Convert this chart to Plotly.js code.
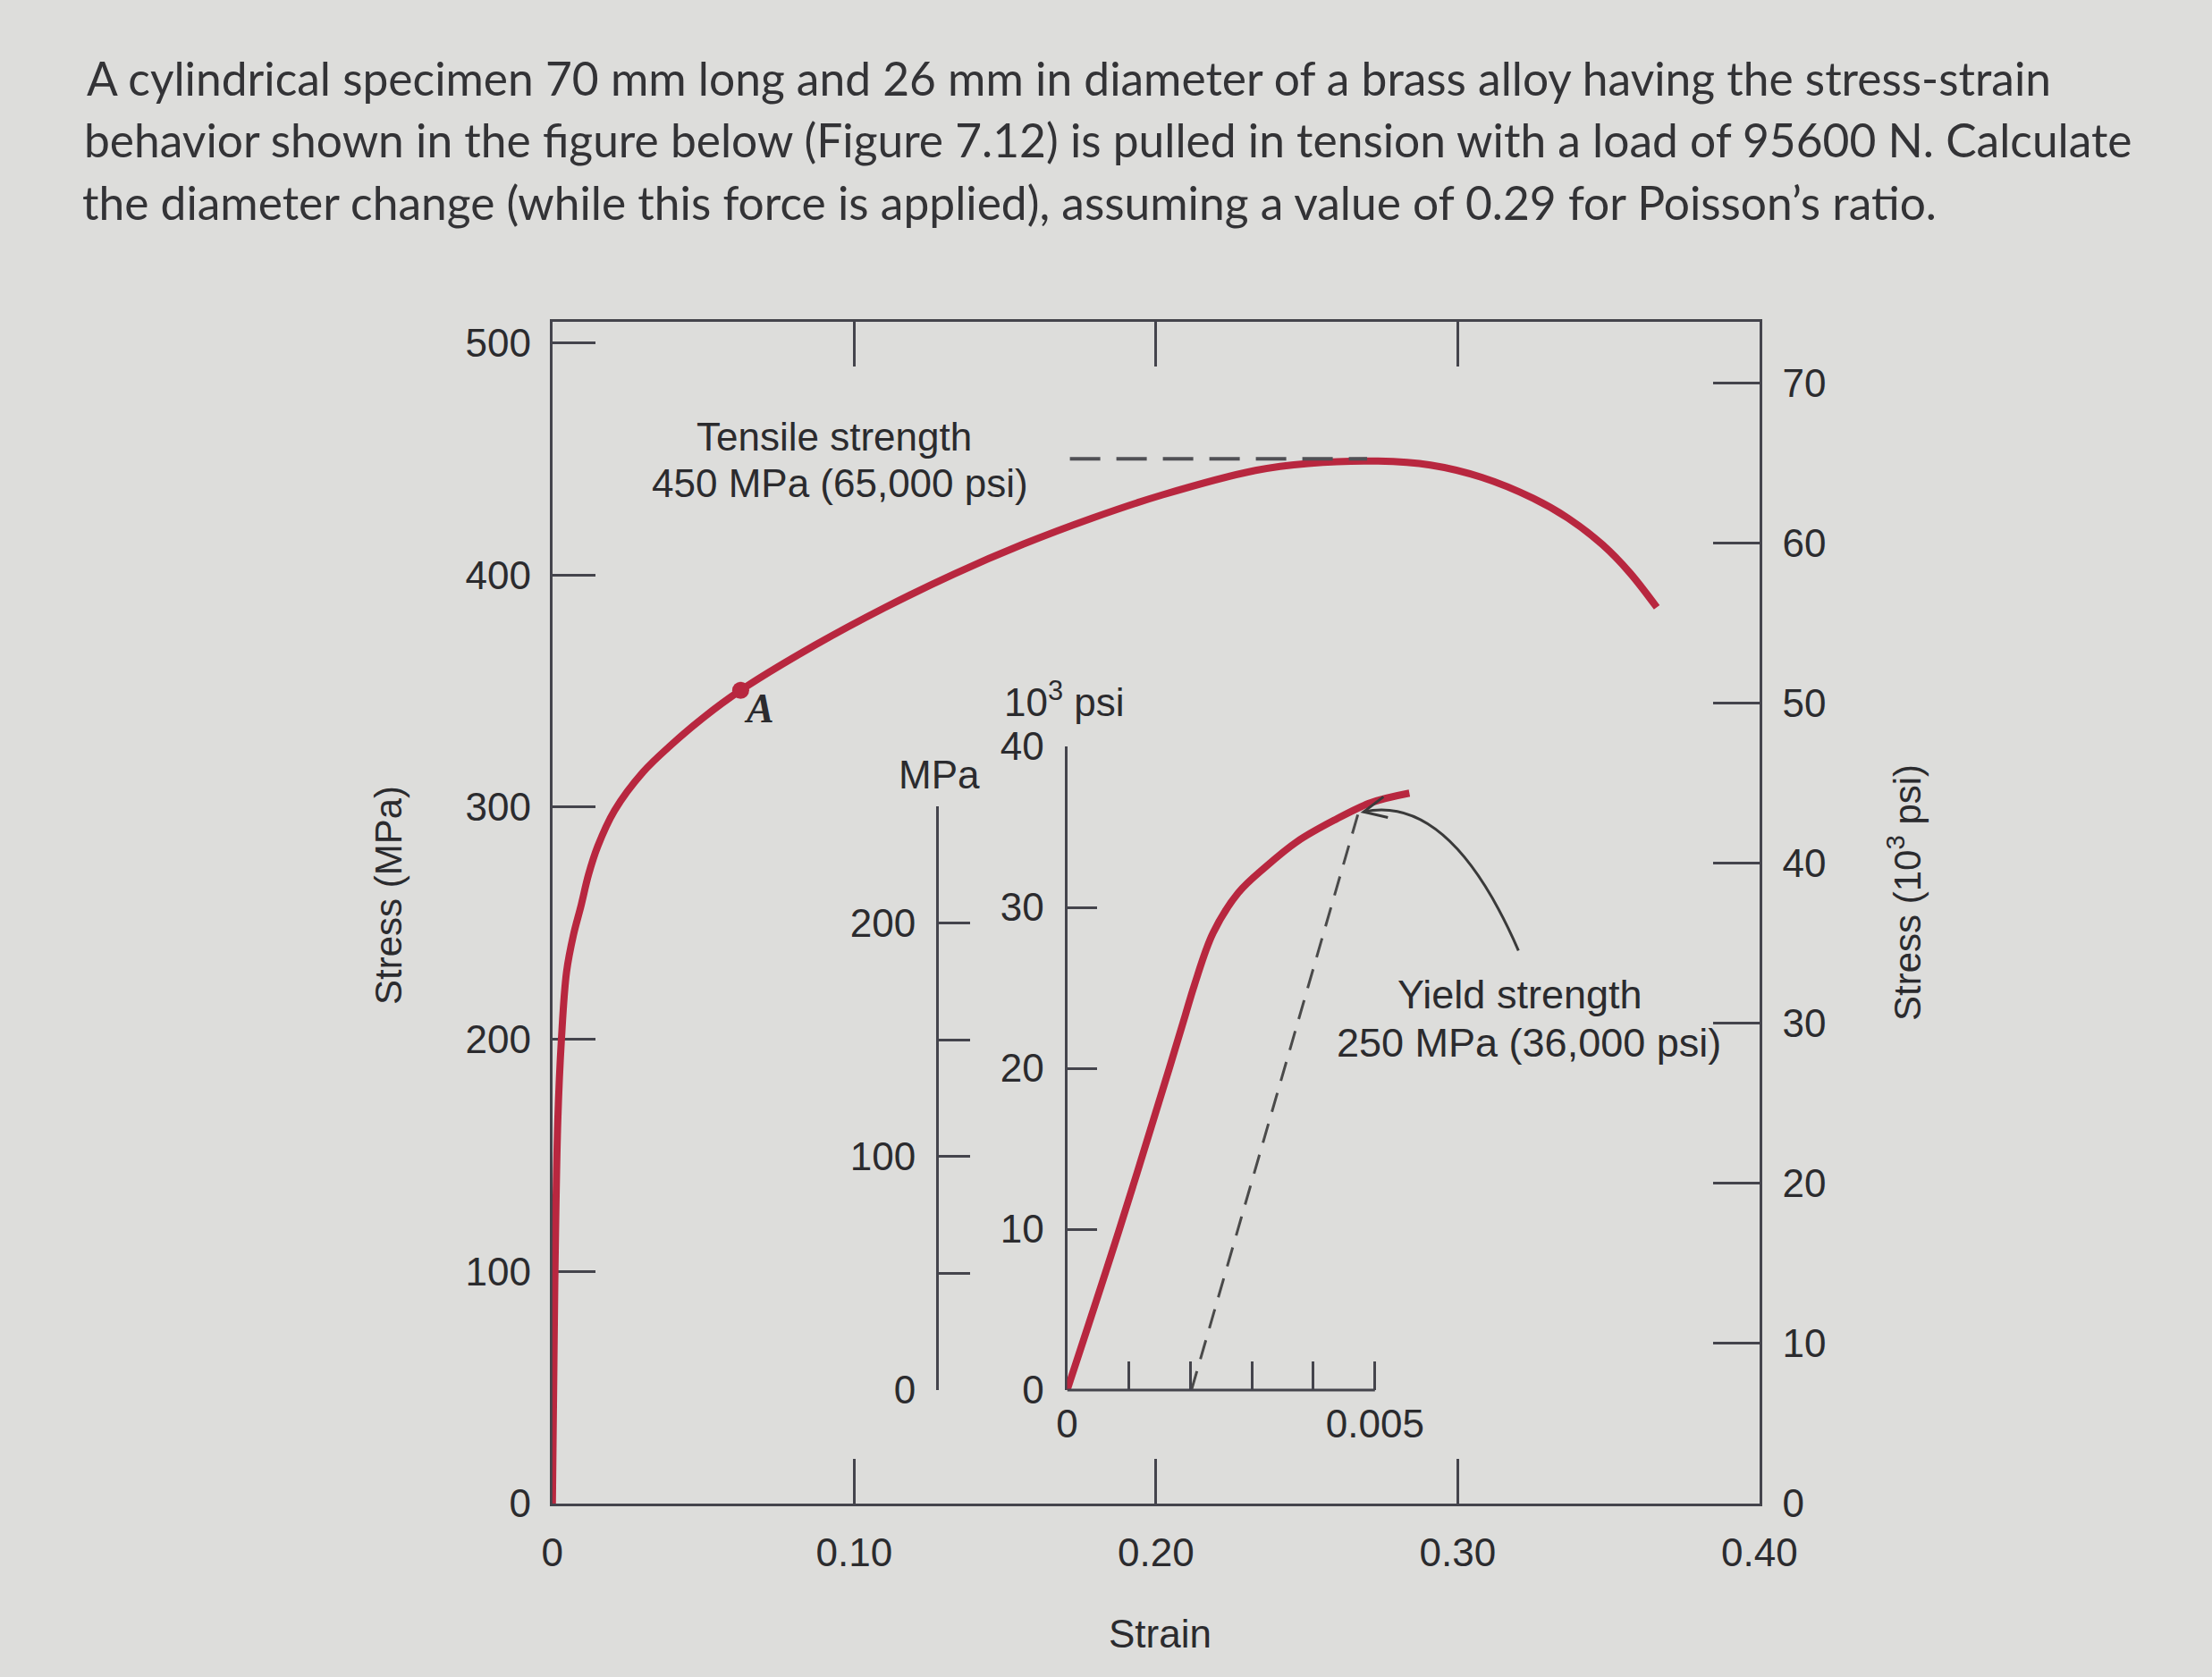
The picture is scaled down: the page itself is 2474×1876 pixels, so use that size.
<!DOCTYPE html>
<html>
<head>
<meta charset="utf-8">
<script src="https://cdn.plot.ly/plotly-3.0.1.min.js"></script>
<style>html,body{margin:0;padding:0;background:#dddddb;}</style>
</head>
<body>
<div id="chart" style="width:2474px;height:1876px;"></div>
<script>
// ---- data ----
// main curve: engineering strain vs stress (MPa)
const mainStrain = [0, 0.0008, 0.0018, 0.003, 0.0047, 0.007, 0.0094, 0.012, 0.015, 0.0206, 0.030, 0.040, 0.050, 0.0624, 0.087, 0.110, 0.133, 0.156, 0.179, 0.202, 0.233, 0.2505, 0.2736, 0.291, 0.308, 0.325, 0.3365, 0.348, 0.357, 0.366];
const mainStress = [0, 95, 165, 200, 229, 245, 257, 271, 283, 298.5, 315, 327.5, 338.5, 350.3, 369.7, 385.8, 400.3, 413.2, 424.5, 434.4, 445, 448, 449, 447.3, 442, 433, 424.5, 413, 401, 386];
// point A
const pointAStrain = [0.0624];
const pointAStress = [350.3];
// tensile strength guide line
const tensileStrain = [0.1715, 0.27];
const tensileStress = [450, 450];
// inset: strain vs stress (10^3 psi)
const insetStrain = [0, 0.00085, 0.00166, 0.00192, 0.00207, 0.00237, 0.00278, 0.00322, 0.00374, 0.00433, 0.00493, 0.00556];
const insetStress = [0, 10, 20, 23.3, 25.2, 28.4, 30.9, 32.5, 34.1, 35.4, 36.5, 37.1];
// inset 0.002 offset line
const offsetStrain = [0.00202, 0.00474];
const offsetStress = [0, 36.0];
// tick labels
const mainXTicks = [0, 0.1, 0.2, 0.3, 0.4];
const mainXLabels = ['0', '0.10', '0.20', '0.30', '0.40'];
const mpaTicks = [0, 100, 200, 300, 400, 500];
const psiTicks = [0, 10, 20, 30, 40, 50, 60, 70];
const insetXTicks = [0, 0.005];
const insetXLabels = ['0', '0.005'];
const insetXMinorStep = 0.001;
const insetPsiTicks = [0, 10, 20, 30, 40];
const insetMpaTicks = [0, 100, 200];
const insetMpaMinorStep = 50;

const W = 2474, H = 1876;
const px = v => v / W;            // paper x from pixel
const py = v => 1 - v / H;        // paper y from pixel (top-down)

const RED = '#b8273f';
const AX = '#44444c';
const TXT = '#2b2b2e';
const FONT = 'Liberation Sans, Arial, Helvetica, sans-serif';
const QFONT = 'Lato, Carlito, Open Sans, sans-serif';
const MPA_PER_KSI = 6.895;
const mainTop = 509;

// yield pointer geometry (pixels): start, control, tip
const arcStart = [1698.3, 1063.3], arcCtrl = [1621.75, 887.6], arcTip = [1525, 908.3];
function arrowBarbs(tip, ctrl, len, deg) {
  const dx = tip[0] - ctrl[0], dy = tip[1] - ctrl[1];
  const n = Math.hypot(dx, dy), ux = dx / n, uy = dy / n, t = deg * Math.PI / 180;
  const r = s => [ux * Math.cos(s) - uy * Math.sin(s), ux * Math.sin(s) + uy * Math.cos(s)];
  const a = r(t), b = r(-t);
  return [[tip[0] - len * a[0], tip[1] - len * a[1]], [tip[0] - len * b[0], tip[1] - len * b[1]]];
}
const barbs = arrowBarbs(arcTip, arcCtrl, 28, 25);

const traces = [
  {x: mainStrain, y: mainStress, type: 'scatter', mode: 'lines', xaxis: 'x', yaxis: 'y',
   line: {color: RED, width: 8, shape: 'spline', smoothing: 1}, hoverinfo: 'skip', showlegend: false},
  {x: tensileStrain, y: tensileStress, type: 'scatter', mode: 'lines', xaxis: 'x', yaxis: 'y',
   line: {color: '#505055', width: 4, dash: '34px,18px'}, hoverinfo: 'skip', showlegend: false},
  {x: pointAStrain, y: pointAStress, type: 'scatter', mode: 'markers', xaxis: 'x', yaxis: 'y',
   marker: {color: RED, size: 19, symbol: 'circle'}, hoverinfo: 'skip', showlegend: false},
  {x: [], y: [], type: 'scatter', mode: 'lines', xaxis: 'x', yaxis: 'y2', showlegend: false, hoverinfo: 'skip'},
  {x: offsetStrain, y: offsetStress, type: 'scatter', mode: 'lines', xaxis: 'x2', yaxis: 'y3',
   line: {color: '#4a4a4a', width: 3, dash: '22px,14px'}, hoverinfo: 'skip', showlegend: false},
  {x: insetStrain, y: insetStress, type: 'scatter', mode: 'lines', xaxis: 'x2', yaxis: 'y3',
   line: {color: RED, width: 8, shape: 'spline', smoothing: 1}, hoverinfo: 'skip', showlegend: false},
  {x: [], y: [], type: 'scatter', mode: 'lines', xaxis: 'x2', yaxis: 'y4', showlegend: false, hoverinfo: 'skip'}
];

const tickFont = {family: FONT, size: 44, color: TXT};

function label(text, x, y, size, extra) {
  return Object.assign({text: text, xref: 'paper', yref: 'paper', x: x, y: y,
    xanchor: 'center', yanchor: 'middle', showarrow: false,
    font: {family: FONT, size: size, color: TXT}}, extra || {});
}

const layout = {
  width: W, height: H,
  margin: {l: 0, r: 0, t: 0, b: 0, pad: 0},
  paper_bgcolor: '#dddddb',
  plot_bgcolor: 'rgba(0,0,0,0)',
  showlegend: false,
  font: {family: FONT, color: TXT},
  xaxis: {
    domain: [px(617.8), px(1967.8)], range: [0, 0.4], anchor: 'y',
    showline: true, linecolor: AX, linewidth: 3, mirror: 'ticks',
    ticks: 'inside', ticklen: 50, tickwidth: 3, tickcolor: AX,
    tickmode: 'array', tickvals: mainXTicks, ticktext: mainXLabels,
    tickfont: tickFont, ticklabelstandoff: 14,
    showgrid: false, zeroline: false, fixedrange: true, layer: 'below traces'
  },
  yaxis: {
    domain: [1 - 1682 / H, 1 - 360 / H], range: [0, mainTop], anchor: 'x',
    showline: true, linecolor: AX, linewidth: 3, mirror: false,
    ticks: 'inside', ticklen: 48, tickwidth: 3, tickcolor: AX,
    tickmode: 'array', tickvals: mpaTicks,
    tickfont: tickFont, ticklabelstandoff: 12,
    showgrid: false, zeroline: false, fixedrange: true, layer: 'below traces'
  },
  yaxis2: {
    overlaying: 'y', side: 'right', anchor: 'x', range: [0, mainTop / MPA_PER_KSI],
    showline: true, linecolor: AX, linewidth: 3,
    ticks: 'inside', ticklen: 52, tickwidth: 3, tickcolor: AX,
    tickmode: 'array', tickvals: psiTicks,
    tickfont: tickFont, ticklabelstandoff: 14,
    showgrid: false, zeroline: false, fixedrange: true, layer: 'below traces'
  },
  xaxis2: {
    domain: [px(1193.5), px(1193.5 + 6 * 68.86)], range: [0, 0.006], anchor: 'y3',
    showline: false,
    ticks: 'inside', ticklen: 32, tickwidth: 3, tickcolor: AX,
    tickmode: 'array', tickvals: insetXTicks, ticktext: insetXLabels,
    minor: {dtick: insetXMinorStep, tick0: 0, ticks: 'inside', ticklen: 32, tickwidth: 3, tickcolor: AX, showgrid: false},
    tickfont: tickFont, ticklabelstandoff: 8,
    showgrid: false, zeroline: false, fixedrange: true
  },
  yaxis3: {
    domain: [1 - 1555 / H, 1 - 835 / H], range: [0, 40], anchor: 'x2',
    showline: true, linecolor: AX, linewidth: 3,
    ticks: 'inside', ticklen: 33, tickwidth: 3, tickcolor: AX,
    tickmode: 'array', tickvals: insetPsiTicks,
    tickfont: tickFont, ticklabelstandoff: 14,
    showgrid: false, zeroline: false, fixedrange: true, layer: 'below traces'
  },
  yaxis4: {
    domain: [1 - 1555 / H, 1 - (1555 - 250 / (40 * MPA_PER_KSI) * 720) / H], range: [0, 250],
    anchor: 'free', position: px(1048),
    showline: true, linecolor: AX, linewidth: 3,
    ticks: 'inside', ticklen: 35, tickwidth: 3, tickcolor: AX,
    tickmode: 'array', tickvals: insetMpaTicks,
    minor: {dtick: insetMpaMinorStep, tick0: 0, ticks: 'inside', ticklen: 35, tickwidth: 3, tickcolor: AX, showgrid: false},
    tickfont: tickFont, ticklabelstandoff: 14,
    showgrid: false, zeroline: false, fixedrange: true
  },
  shapes: [
    // inset strain axis line (0 to 0.005)
    {type: 'line', xref: 'x2', yref: 'paper', x0: 0, x1: 0.005, y0: 1 - 1555 / H, y1: 1 - 1555 / H,
     line: {color: AX, width: 3}},
    // curved pointer to yield point
    {type: 'path', xref: 'paper', yref: 'paper',
     path: `M ${px(arcStart[0])} ${py(arcStart[1])} Q ${px(arcCtrl[0])} ${py(arcCtrl[1])} ${px(arcTip[0])} ${py(arcTip[1])}`,
     line: {color: '#3a3a3a', width: 3}},
    // open arrow head
    {type: 'path', xref: 'paper', yref: 'paper',
     path: `M ${px(barbs[0][0])} ${py(barbs[0][1])} L ${px(arcTip[0])} ${py(arcTip[1])} L ${px(barbs[1][0])} ${py(barbs[1][1])}`,
     line: {color: '#3a3a3a', width: 3}}
  ],
  annotations: [
    // question text
    {text: 'A cylindrical specimen 70 mm long and 26 mm in diameter of a brass alloy having the stress-strain',
     xref: 'paper', yref: 'paper', x: px(94.7), y: py(87), xanchor: 'left', yanchor: 'middle', showarrow: false,
     font: {family: QFONT, size: 51.5, color: '#333336'}},
    {text: 'behavior shown in the figure below (Figure 7.12) is pulled in tension with a load of 95600 N. Calculate',
     xref: 'paper', yref: 'paper', x: px(91.5), y: py(156), xanchor: 'left', yanchor: 'middle', showarrow: false,
     font: {family: QFONT, size: 51.5, color: '#333336'}},
    {text: 'the diameter change (while this force is applied), assuming a value of 0.29 for Poisson’s ratio.',
     xref: 'paper', yref: 'paper', x: px(90), y: py(226), xanchor: 'left', yanchor: 'middle', showarrow: false,
     font: {family: QFONT, size: 51.5, color: '#333336'}},
    // axis titles
    label('Stress (MPa)', px(434), py(1002), 42, {textangle: -90}),
    label('Stress (10<sup>3</sup> psi)', px(2130), py(999), 42, {textangle: -90}),
    label('Strain', px(1297), py(1827), 44),
    // tensile strength label
    label('Tensile strength', px(932.6), py(489), 44),
    label('450 MPa (65,000 psi)', px(939), py(540), 44),
    // point A
    label('A', px(849), py(792), 46, {font: {family: 'Liberation Serif, Times New Roman, serif', size: 46, color: TXT, style: 'italic', weight: 'bold'}}),
    // inset labels
    label('MPa', px(1050.5), py(866.5), 44),
    label('10<sup>3</sup> psi', px(1190.8), py(782), 44),
    label('Yield strength', px(1700), py(1112.5), 45),
    label('250 MPa (36,000 psi)', px(1709.8), py(1166), 45)
  ]
};

Plotly.newPlot('chart', traces, layout, {staticPlot: true, displayModeBar: false});
</script>
</body>
</html>
